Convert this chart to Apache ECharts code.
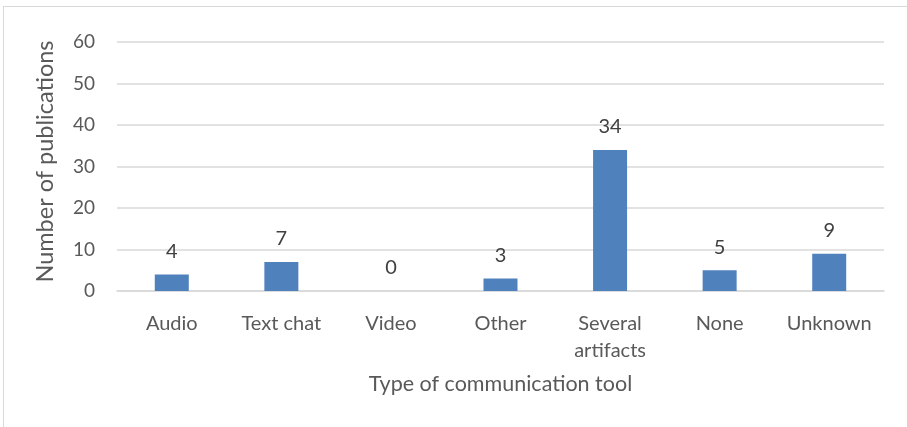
<!DOCTYPE html>
<html><head><meta charset="utf-8">
<script src="https://cdn.jsdelivr.net/npm/echarts@6/dist/echarts.min.js"></script>
<style>
html,body{margin:0;padding:0;background:#fff;}
#frame{position:absolute;left:3px;top:6px;width:910px;height:430px;border:1px solid #d9d9d9;box-sizing:border-box;}
#c{position:absolute;left:0;top:0;width:907px;height:427px;}
</style></head>
<body>
<div id="frame"></div>
<div id="c"></div>
<script>
const categories = ['Audio','Text chat','Video','Other','Several\nartifacts','None','Unknown'];
const values = [4,7,0,3,34,5,9];
const yTicks = {min:0, max:60, interval:10};
const font = 'Lato, "Open Sans", sans-serif';
const chart = echarts.init(document.getElementById('c'), null, {renderer:'canvas'});
chart.setOption({
  animation:false,
  backgroundColor:'transparent',
  grid:{left:117, right:23, top:42, bottom:136},
  xAxis:{
    type:'category', data:categories,
    name:'Type of communication tool', nameLocation:'middle', nameGap:82,
    nameTextStyle:{fontFamily:font, fontSize:21.5, color:'#595959'},
    axisLine:{show:true, lineStyle:{color:'#d9d9d9', width:1.5}},
    axisTick:{show:false},
    axisLabel:{fontFamily:font, fontSize:20, color:'#595959', margin:19, lineHeight:27, interval:0}
  },
  yAxis:{
    type:'value', min:yTicks.min, max:yTicks.max, interval:yTicks.interval,
    name:'Number of publications', nameLocation:'middle', nameGap:60,
    nameTextStyle:{fontFamily:font, fontSize:23.5, color:'#595959', padding:[0,0,0,10]},
    axisLine:{show:false}, axisTick:{show:false},
    axisLabel:{fontFamily:font, fontSize:19, color:'#595959', margin:22},
    splitLine:{lineStyle:{color:'#d9d9d9', width:1.5}}
  },
  series:[{
    type:'bar', data:values, barWidth:34,
    itemStyle:{color:'#4F81BD'},
    label:{show:true, position:'top', distance:13, fontFamily:font, fontSize:20, color:'#404040'}
  }]
});
</script>
</body></html>
